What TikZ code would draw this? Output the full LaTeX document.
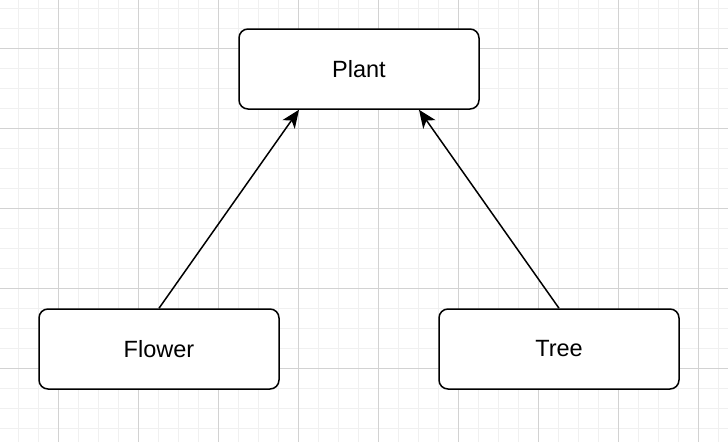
\documentclass[tikz,border=0pt]{standalone}
\usepackage{fontspec}
\setmainfont{Liberation Sans}
\usetikzlibrary{arrows.meta}
\definecolor{minorgrid}{RGB}{240,240,240}
\definecolor{majorgrid}{RGB}{210,210,210}
\begin{document}
\begin{tikzpicture}[x=1pt,y=-1pt,
  box/.style={draw=black, line width=1.5pt, rounded corners=9pt, fill=white,
    minimum width=240pt, minimum height=80pt, inner sep=0pt,
    font=\fontsize{23.5}{27}\selectfont},
  conn/.style={line width=1.5pt, -{Stealth[length=18pt, width=15pt, inset=5pt]}}]
\useasboundingbox (0,0) rectangle (728,442);
\fill[white] (0,0) rectangle (728,442);
\foreach \x in {-2,18,...,728} \draw[minorgrid, line width=1pt] (\x,0) -- (\x,442);
\foreach \y in {8,28,...,442} \draw[minorgrid, line width=1pt] (0,\y) -- (728,\y);
\foreach \x in {58,138,...,728} \draw[majorgrid, line width=1pt] (\x,0) -- (\x,442);
\foreach \y in {48,128,...,442} \draw[majorgrid, line width=1pt] (0,\y) -- (728,\y);
\node[box] (plant) at (359,69) {Plant};
\node[box] (flower) at (159,349) {Flower};
\node[box] (tree) at (559,349) {Tree};
\draw[conn] (flower.north) -- (plant.south -| 299,0);
\draw[conn] (tree.north) -- (plant.south -| 419,0);
\end{tikzpicture}
\end{document}
